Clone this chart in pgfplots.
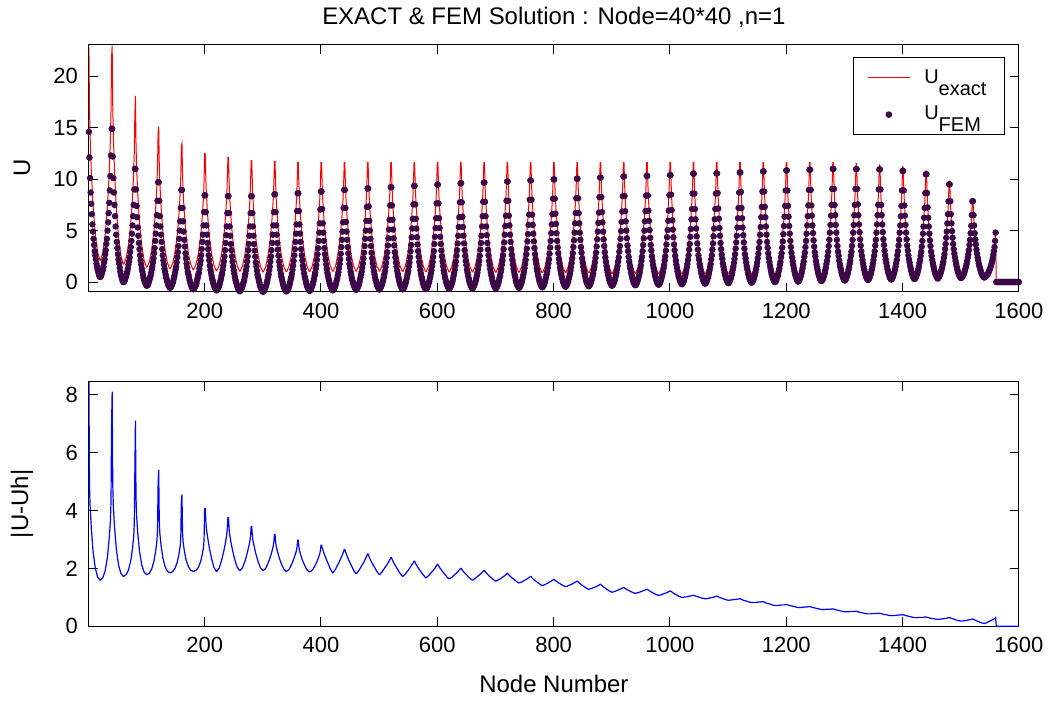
\documentclass[border=0pt]{standalone}
\usepackage{fontspec}
\setmainfont{Liberation Sans}
\usepackage{pgfplots}
\usepackage{pgfplotstable}
\pgfplotsset{compat=1.18}
\definecolor{femc}{RGB}{60,8,72}
% sampled nodes: exact solution and error
\pgfplotstableread{
x ex err
1 23.0 8.45
2 16.96 4.9
3 14.27 4.18
5 10.99 3.44
8 7.49 2.62
12 4.63 2.01
16 2.91 1.70
20 2.1 1.6
21 2.1 1.6
25 2.9 1.68
29 4.58 1.92
33 7.37 2.41
36 10.76 3.06
38 13.94 3.65
39 16.61 4.3
40 21.9 7.0
41 23.0 8.1
42 17.14 4.92
43 14.28 4.15
45 10.9 3.45
48 7.31 2.69
52 4.35 2.11
56 2.58 1.83
60 1.73 1.73
61 1.73 1.73
65 2.33 1.78
69 3.59 1.94
73 5.68 2.27
76 8.19 2.69
78 10.57 3.09
79 12.54 3.52
80 16.3 5.3
81 18.1 7.1
82 13.41 4.45
83 11.18 3.81
85 8.55 3.22
88 5.76 2.59
92 3.46 2.11
96 2.09 1.87
100 1.44 1.79
101 1.44 1.79
105 1.99 1.84
109 3.14 1.98
113 5.03 2.26
116 7.31 2.63
118 9.45 2.97
119 11.24 3.35
120 14.6 4.9
121 15.1 5.4
122 11.49 3.63
123 9.62 3.2
125 7.39 2.81
128 5.01 2.38
132 3.05 2.06
136 1.86 1.9
140 1.3 1.85
141 1.3 1.85
145 1.81 1.89
149 2.88 2.0
153 4.62 2.22
156 6.71 2.51
158 8.69 2.78
159 10.32 3.08
160 13.25 4.3
161 13.5 4.55
162 10.44 3.23
163 8.77 2.91
165 6.75 2.62
168 4.59 2.3
172 2.81 2.06
176 1.72 1.94
180 1.2 1.9
181 1.2 1.9
185 1.69 1.93
189 2.7 2.03
193 4.36 2.23
196 6.36 2.49
198 8.23 2.72
199 9.78 2.99
200 12.5 4.07
201 12.5 4.07
202 10.19 3.64
203 8.57 3.38
205 6.59 3.09
208 4.48 2.72
212 2.72 2.33
216 1.63 2.03
220 1.1 1.9
221 1.1 1.9
225 1.62 2.01
229 2.67 2.27
233 4.38 2.6
236 6.42 2.92
238 8.34 3.16
239 9.9 3.38
240 12.1 3.75
241 12.1 3.75
242 9.89 3.39
243 8.33 3.17
245 6.4 2.93
248 4.35 2.62
252 2.63 2.29
256 1.56 2.04
260 1.05 1.93
261 1.05 1.93
265 1.56 2.02
269 2.6 2.23
273 4.27 2.51
276 6.28 2.77
278 8.17 2.96
279 9.68 3.15
280 11.8 3.45
281 11.8 3.45
282 9.67 3.15
283 8.15 2.96
285 6.25 2.77
288 4.23 2.51
292 2.55 2.23
296 1.5 2.02
300 0.99 1.93
301 0.99 1.93
305 1.5 2.0
309 2.55 2.18
313 4.21 2.4
316 6.23 2.61
318 8.11 2.77
319 9.63 2.92
320 11.7 3.17
321 11.7 3.17
322 9.62 2.92
323 8.11 2.76
325 6.23 2.6
328 4.22 2.38
332 2.55 2.15
336 1.51 1.98
340 1.0 1.9
341 1.0 1.9
345 1.51 1.96
349 2.55 2.11
353 4.21 2.31
356 6.2 2.49
358 8.07 2.63
359 9.56 2.76
360 11.6 2.97
361 11.6 2.97
362 9.56 2.75
363 8.08 2.62
365 6.21 2.48
368 4.23 2.29
372 2.57 2.1
376 1.53 1.95
380 1.03 1.88
381 1.03 1.88
385 1.54 1.94
389 2.58 2.06
393 4.24 2.23
396 6.23 2.39
398 8.1 2.51
399 9.58 2.62
400 11.6 2.8
401 11.6 2.8
402 9.59 2.72
403 8.1 2.66
405 6.23 2.53
408 4.26 2.37
412 2.59 2.18
416 1.56 1.99
420 1.05 1.85
421 1.05 1.85
425 1.56 1.97
429 2.6 2.13
433 4.26 2.29
436 6.25 2.43
438 8.12 2.53
439 9.61 2.59
440 11.6 2.65
441 11.6 2.65
442 9.6 2.58
443 8.13 2.53
445 6.25 2.42
448 4.28 2.28
452 2.62 2.11
456 1.57 1.94
460 1.07 1.82
461 1.07 1.82
465 1.58 1.92
469 2.62 2.06
473 4.28 2.19
476 6.27 2.31
478 8.14 2.4
479 9.63 2.45
480 11.6 2.5
481 11.6 2.5
482 9.62 2.44
483 8.14 2.39
485 6.26 2.3
488 4.28 2.18
492 2.62 2.04
496 1.58 1.9
500 1.07 1.79
501 1.07 1.79
505 1.59 1.88
509 2.62 2.0
513 4.29 2.11
516 6.28 2.21
518 8.15 2.29
519 9.63 2.33
520 11.6 2.38
521 11.6 2.38
522 9.62 2.33
523 8.14 2.28
525 6.25 2.2
528 4.27 2.09
532 2.59 1.96
536 1.55 1.83
540 1.03 1.73
541 1.03 1.73
545 1.55 1.81
549 2.6 1.91
553 4.27 2.02
556 6.27 2.12
558 8.15 2.17
559 9.63 2.21
560 11.6 2.25
561 11.6 2.25
562 9.62 2.2
563 8.13 2.16
565 6.25 2.09
568 4.25 1.99
572 2.56 1.88
576 1.52 1.77
580 1.0 1.68
581 1.0 1.68
585 1.52 1.75
589 2.57 1.84
593 4.25 1.93
596 6.25 2.01
598 8.15 2.07
599 9.63 2.1
600 11.6 2.14
601 11.6 2.14
602 9.63 2.1
603 8.14 2.07
605 6.25 2.0
608 4.24 1.92
612 2.57 1.82
616 1.52 1.72
620 0.99 1.64
621 0.99 1.64
625 1.51 1.69
629 2.57 1.77
633 4.26 1.84
636 6.26 1.9
638 8.16 1.95
639 9.65 1.97
640 11.6 2.0
641 11.6 2.0
642 9.64 1.97
643 8.15 1.94
645 6.25 1.89
648 4.25 1.82
652 2.55 1.74
656 1.5 1.66
660 0.98 1.6
661 0.98 1.6
665 1.5 1.65
669 2.56 1.72
673 4.25 1.78
676 6.26 1.84
678 8.16 1.88
679 9.65 1.9
680 11.6 1.93
681 11.6 1.93
682 9.64 1.9
683 8.14 1.87
685 6.25 1.83
688 4.23 1.76
692 2.54 1.69
696 1.48 1.62
700 0.96 1.56
701 0.96 1.56
705 1.49 1.6
709 2.55 1.65
713 4.23 1.71
716 6.26 1.75
718 8.16 1.79
719 9.65 1.81
720 11.6 1.83
721 11.6 1.83
722 9.64 1.8
723 8.15 1.78
725 6.24 1.74
728 4.23 1.68
732 2.54 1.62
736 1.48 1.55
740 0.95 1.5
741 0.95 1.5
745 1.48 1.53
749 2.53 1.58
753 4.23 1.62
756 6.26 1.66
758 8.16 1.69
759 9.65 1.7
760 11.6 1.72
761 11.6 1.72
762 9.64 1.7
763 8.14 1.67
765 6.22 1.63
768 4.2 1.58
772 2.5 1.52
776 1.44 1.46
780 0.91 1.41
781 0.91 1.41
785 1.44 1.44
789 2.5 1.48
793 4.21 1.53
796 6.23 1.56
798 8.16 1.59
799 9.65 1.6
800 11.6 1.62
801 11.6 1.62
802 9.65 1.6
803 8.15 1.58
805 6.24 1.55
808 4.21 1.51
812 2.51 1.46
816 1.45 1.41
820 0.92 1.37
821 0.92 1.37
825 1.45 1.4
829 2.51 1.44
833 4.22 1.47
836 6.25 1.51
838 8.15 1.53
839 9.65 1.54
840 11.6 1.56
841 11.6 1.56
842 9.64 1.54
843 8.13 1.52
845 6.21 1.48
848 4.19 1.43
852 2.48 1.38
856 1.41 1.32
860 0.88 1.28
861 0.88 1.28
865 1.42 1.31
869 2.48 1.34
873 4.19 1.37
876 6.23 1.4
878 8.14 1.42
879 9.65 1.44
880 11.6 1.45
881 11.6 1.45
882 9.63 1.43
883 8.12 1.41
885 6.19 1.37
888 4.15 1.33
892 2.44 1.27
896 1.37 1.22
900 0.83 1.18
901 0.83 1.18
905 1.36 1.2
909 2.44 1.24
913 4.16 1.27
916 6.2 1.3
918 8.13 1.32
919 9.64 1.33
920 11.6 1.34
921 11.6 1.34
922 9.64 1.32
923 8.13 1.31
925 6.2 1.28
928 4.16 1.25
932 2.44 1.21
936 1.38 1.17
940 0.84 1.14
941 0.84 1.14
945 1.37 1.16
949 2.45 1.19
953 4.17 1.22
956 6.21 1.24
958 8.14 1.26
959 9.65 1.27
960 11.6 1.28
961 11.6 1.28
962 9.64 1.26
963 8.13 1.25
965 6.19 1.22
968 4.15 1.19
972 2.43 1.14
976 1.36 1.1
980 0.82 1.07
981 0.82 1.07
985 1.35 1.09
989 2.43 1.12
993 4.16 1.15
996 6.2 1.18
998 8.13 1.2
999 9.65 1.21
1000 11.6 1.22
1001 11.6 1.22
1002 9.63 1.2
1003 8.11 1.19
1005 6.18 1.16
1008 4.13 1.12
1012 2.41 1.08
1016 1.34 1.03
1020 0.8 1.0
1021 0.8 1.0
1025 1.34 1.01
1029 2.42 1.02
1033 4.15 1.04
1036 6.2 1.05
1038 8.14 1.06
1039 9.65 1.06
1040 11.6 1.07
1041 11.6 1.07
1042 9.64 1.06
1043 8.13 1.05
1045 6.19 1.04
1048 4.14 1.02
1052 2.41 0.99
1056 1.33 0.97
1060 0.8 0.95
1061 0.8 0.95
1065 1.34 0.96
1069 2.42 0.98
1073 4.14 1.0
1076 6.2 1.01
1078 8.13 1.03
1079 9.64 1.03
1080 11.6 1.04
1081 11.6 1.04
1082 9.64 1.03
1083 8.13 1.02
1085 6.19 1.0
1088 4.13 0.98
1092 2.42 0.95
1096 1.33 0.92
1100 0.8 0.9
1101 0.8 0.9
1105 1.34 0.91
1109 2.42 0.92
1113 4.14 0.93
1116 6.2 0.94
1118 8.14 0.94
1119 9.66 0.95
1120 11.6 0.95
1121 11.6 0.95
1122 9.63 0.94
1123 8.12 0.93
1125 6.17 0.91
1128 4.12 0.89
1132 2.39 0.87
1136 1.31 0.84
1140 0.77 0.82
1141 0.77 0.82
1145 1.31 0.82
1149 2.39 0.83
1153 4.13 0.84
1156 6.18 0.84
1158 8.13 0.85
1159 9.65 0.85
1160 11.6 0.85
1161 11.6 0.85
1162 9.63 0.84
1163 8.1 0.83
1165 6.15 0.81
1168 4.08 0.79
1172 2.34 0.77
1176 1.26 0.74
1180 0.72 0.72
1181 0.72 0.72
1185 1.26 0.72
1189 2.35 0.73
1193 4.09 0.74
1196 6.16 0.74
1198 8.12 0.75
1199 9.64 0.75
1200 11.6 0.75
1201 11.6 0.75
1202 9.63 0.74
1203 8.1 0.74
1205 6.14 0.72
1208 4.07 0.71
1212 2.33 0.69
1216 1.24 0.67
1220 0.7 0.65
1221 0.7 0.65
1225 1.24 0.65
1229 2.33 0.66
1233 4.08 0.67
1236 6.15 0.67
1238 8.11 0.68
1239 9.63 0.68
1240 11.6 0.68
1241 11.6 0.68
1242 9.62 0.67
1243 8.1 0.67
1245 6.13 0.65
1248 4.05 0.64
1252 2.31 0.62
1256 1.22 0.6
1260 0.68 0.58
1261 0.68 0.58
1265 1.23 0.58
1269 2.32 0.59
1273 4.06 0.59
1276 6.14 0.59
1278 8.1 0.6
1279 9.63 0.6
1280 11.6 0.6
1281 11.6 0.6
1282 9.62 0.59
1283 8.09 0.59
1285 6.12 0.57
1288 4.03 0.56
1292 2.29 0.54
1296 1.19 0.52
1300 0.65 0.5
1301 0.65 0.5
1305 1.19 0.5
1309 2.27 0.51
1313 4.01 0.51
1316 6.08 0.51
1318 8.02 0.52
1319 9.54 0.52
1320 11.5 0.52
1321 11.5 0.52
1322 9.53 0.51
1323 8.01 0.51
1325 6.06 0.49
1328 3.99 0.48
1332 2.26 0.46
1336 1.17 0.44
1340 0.63 0.43
1341 0.63 0.43
1345 1.17 0.43
1349 2.24 0.44
1353 3.96 0.44
1356 6.02 0.44
1358 7.95 0.45
1359 9.46 0.45
1360 11.4 0.45
1361 11.4 0.45
1362 9.45 0.44
1363 7.94 0.44
1365 6.0 0.43
1368 3.96 0.41
1372 2.24 0.4
1376 1.16 0.38
1380 0.62 0.37
1381 0.62 0.37
1385 1.15 0.37
1389 2.2 0.38
1393 3.9 0.39
1396 5.91 0.39
1398 7.81 0.4
1399 9.29 0.4
1400 11.2 0.4
1401 11.2 0.4
1402 9.28 0.39
1403 7.8 0.39
1405 5.89 0.37
1408 3.88 0.36
1412 2.19 0.34
1416 1.13 0.32
1420 0.6 0.3
1421 0.6 0.3
1425 1.11 0.3
1429 2.13 0.31
1433 3.76 0.31
1436 5.7 0.31
1438 7.53 0.32
1439 8.96 0.32
1440 10.8 0.32
1441 10.8 0.32
1442 8.96 0.31
1443 7.52 0.31
1445 5.69 0.3
1448 3.75 0.28
1452 2.12 0.27
1456 1.1 0.25
1460 0.59 0.24
1461 0.59 0.24
1465 1.05 0.25
1469 1.97 0.26
1473 3.44 0.27
1476 5.19 0.28
1478 6.84 0.29
1479 8.13 0.3
1480 9.8 0.3
1481 9.8 0.3
1482 8.12 0.29
1483 6.84 0.28
1485 5.18 0.27
1488 3.43 0.25
1492 1.96 0.22
1496 1.04 0.2
1500 0.58 0.18
1501 0.58 0.18
1505 0.95 0.19
1509 1.71 0.2
1513 2.91 0.22
1516 4.34 0.23
1518 5.69 0.24
1519 6.74 0.24
1520 8.1 0.25
1521 8.1 0.25
1522 6.73 0.24
1523 5.66 0.23
1525 4.31 0.21
1528 2.88 0.18
1532 1.68 0.15
1536 0.92 0.12
1540 0.55 0.1
1541 0.55 0.1
1545 0.78 0.13
1549 1.22 0.17
1553 1.95 0.21
1556 2.81 0.24
1558 3.62 0.27
1559 4.26 0.28
1560 5.1 0.3
1561 0 0
1600 0 0
}\data
% FEM value at every node 1..1600 (one line per 40 nodes)
\pgfplotstableread[row sep=\\]{
y\\
14.6\\12.1\\10.1\\8.7\\7.6\\6.6\\5.6\\4.9\\4.2\\3.6\\3.0\\2.6\\2.2\\1.8\\1.5\\1.2\\1.0\\0.8\\0.6\\0.5\\0.5\\0.6\\0.8\\1.0\\1.2\\1.5\\1.9\\2.2\\2.7\\3.1\\3.7\\4.2\\5.0\\5.8\\6.7\\7.7\\8.9\\10.3\\12.3\\14.9\\
14.9\\12.2\\10.1\\8.7\\7.5\\6.4\\5.4\\4.6\\3.9\\3.3\\2.7\\2.2\\1.8\\1.4\\1.0\\0.7\\0.5\\0.3\\0.1\\0\\0\\0.1\\0.2\\0.4\\0.6\\0.8\\1.0\\1.3\\1.7\\2.0\\2.4\\2.9\\3.4\\4.0\\4.7\\5.5\\6.4\\7.5\\9.0\\11.0\\
11.0\\9.0\\7.4\\6.3\\5.3\\4.5\\3.8\\3.2\\2.6\\2.1\\1.7\\1.3\\1.0\\0.7\\0.4\\0.2\\0.0\\-0.1\\-0.2\\-0.35\\-0.35\\-0.3\\-0.2\\0.0\\0.2\\0.4\\0.6\\0.9\\1.2\\1.5\\1.9\\2.3\\2.8\\3.3\\4.0\\4.7\\5.5\\6.5\\7.9\\9.7\\
9.7\\7.9\\6.4\\5.4\\4.6\\3.9\\3.2\\2.6\\2.1\\1.7\\1.3\\1.0\\0.7\\0.4\\0.2\\0.0\\-0.2\\-0.3\\-0.45\\-0.55\\-0.55\\-0.45\\-0.4\\-0.2\\-0.1\\0.1\\0.35\\0.6\\0.9\\1.2\\1.5\\1.9\\2.4\\2.9\\3.5\\4.2\\5.0\\5.9\\7.2\\8.95\\
8.95\\7.2\\5.9\\4.9\\4.1\\3.45\\2.8\\2.3\\1.8\\1.4\\1.0\\0.75\\0.5\\0.2\\0.0\\-0.2\\-0.35\\-0.5\\-0.6\\-0.7\\-0.7\\-0.6\\-0.5\\-0.4\\-0.25\\-0.1\\0.2\\0.4\\0.7\\0.9\\1.3\\1.7\\2.1\\2.6\\3.2\\3.9\\4.6\\5.5\\6.8\\8.43\\
8.43\\6.8\\5.5\\4.6\\3.8\\3.2\\2.6\\2.1\\1.6\\1.2\\0.9\\0.6\\0.3\\0.1\\-0.15\\-0.3\\-0.5\\-0.6\\-0.7\\-0.8\\-0.8\\-0.7\\-0.6\\-0.5\\-0.35\\-0.15\\0.1\\0.3\\0.6\\0.85\\1.2\\1.6\\2.0\\2.5\\3.1\\3.8\\4.55\\5.4\\6.7\\8.35\\
8.35\\6.7\\5.4\\4.5\\3.7\\3.1\\2.5\\2.0\\1.5\\1.15\\0.8\\0.5\\0.2\\0.0\\-0.2\\-0.4\\-0.55\\-0.7\\-0.8\\-0.88\\-0.88\\-0.8\\-0.7\\-0.55\\-0.4\\-0.2\\0.0\\0.2\\0.5\\0.8\\1.15\\1.5\\2.0\\2.5\\3.1\\3.7\\4.5\\5.4\\6.7\\8.35\\
8.35\\6.7\\5.4\\4.5\\3.7\\3.05\\2.45\\1.9\\1.5\\1.1\\0.7\\0.45\\0.2\\-0.05\\-0.3\\-0.5\\-0.6\\-0.75\\-0.85\\-0.94\\-0.94\\-0.85\\-0.75\\-0.6\\-0.45\\-0.3\\-0.05\\0.2\\0.5\\0.75\\1.15\\1.5\\2.0\\2.5\\3.1\\3.8\\4.6\\5.5\\6.8\\8.53\\
8.53\\6.8\\5.5\\4.6\\3.8\\3.15\\2.55\\2.0\\1.55\\1.2\\0.8\\0.5\\0.25\\0.0\\-0.25\\-0.45\\-0.6\\-0.7\\-0.8\\-0.9\\-0.9\\-0.8\\-0.7\\-0.6\\-0.45\\-0.25\\0.0\\0.25\\0.5\\0.8\\1.2\\1.6\\2.05\\2.6\\3.2\\3.9\\4.7\\5.6\\6.9\\8.63\\
8.63\\6.9\\5.6\\4.7\\3.9\\3.2\\2.6\\2.1\\1.6\\1.25\\0.85\\0.55\\0.3\\0.05\\-0.2\\-0.4\\-0.5\\-0.65\\-0.75\\-0.85\\-0.85\\-0.75\\-0.65\\-0.5\\-0.35\\-0.2\\0.05\\0.3\\0.6\\0.9\\1.3\\1.65\\2.15\\2.7\\3.3\\4.0\\4.8\\5.7\\7.05\\8.8\\
8.8\\7.1\\5.7\\4.8\\4.0\\3.3\\2.7\\2.2\\1.7\\1.3\\0.9\\0.65\\0.35\\0.1\\-0.15\\-0.3\\-0.45\\-0.6\\-0.7\\-0.8\\-0.8\\-0.7\\-0.6\\-0.45\\-0.3\\-0.1\\0.15\\0.35\\0.65\\0.95\\1.35\\1.75\\2.2\\2.75\\3.4\\4.1\\4.9\\5.8\\7.2\\8.95\\
8.95\\7.2\\5.85\\4.9\\4.1\\3.4\\2.8\\2.25\\1.75\\1.4\\1.0\\0.7\\0.4\\0.15\\-0.05\\-0.25\\-0.4\\-0.55\\-0.65\\-0.75\\-0.75\\-0.65\\-0.55\\-0.4\\-0.25\\-0.05\\0.2\\0.45\\0.75\\1.0\\1.4\\1.8\\2.3\\2.85\\3.5\\4.2\\5.0\\5.95\\7.3\\9.1\\
9.1\\7.35\\5.95\\5.0\\4.2\\3.5\\2.85\\2.3\\1.85\\1.45\\1.05\\0.75\\0.45\\0.2\\0.0\\-0.25\\-0.4\\-0.5\\-0.6\\-0.72\\-0.72\\-0.6\\-0.5\\-0.35\\-0.2\\0.0\\0.2\\0.45\\0.75\\1.05\\1.45\\1.85\\2.35\\2.9\\3.55\\4.25\\5.1\\6.05\\7.45\\9.22\\
9.22\\7.45\\6.05\\5.1\\4.25\\3.55\\2.9\\2.4\\1.9\\1.5\\1.1\\0.8\\0.5\\0.25\\0.0\\-0.2\\-0.35\\-0.5\\-0.6\\-0.7\\-0.7\\-0.6\\-0.5\\-0.35\\-0.2\\0.0\\0.25\\0.5\\0.8\\1.1\\1.5\\1.9\\2.4\\3.0\\3.6\\4.35\\5.2\\6.15\\7.55\\9.35\\
9.35\\7.55\\6.15\\5.2\\4.35\\3.65\\3.0\\2.45\\1.95\\1.55\\1.15\\0.8\\0.5\\0.25\\0.0\\-0.2\\-0.35\\-0.5\\-0.6\\-0.68\\-0.68\\-0.6\\-0.5\\-0.35\\-0.15\\0.05\\0.3\\0.55\\0.85\\1.15\\1.55\\1.95\\2.45\\3.0\\3.7\\4.4\\5.25\\6.2\\7.65\\9.46\\
9.46\\7.65\\6.2\\5.25\\4.4\\3.7\\3.05\\2.5\\2.0\\1.55\\1.15\\0.85\\0.55\\0.3\\0.05\\-0.15\\-0.3\\-0.45\\-0.55\\-0.65\\-0.65\\-0.55\\-0.45\\-0.3\\-0.15\\0.05\\0.3\\0.6\\0.9\\1.2\\1.6\\2.0\\2.55\\3.1\\3.75\\4.5\\5.35\\6.3\\7.75\\9.6\\
9.6\\7.75\\6.35\\5.35\\4.5\\3.75\\3.1\\2.55\\2.05\\1.65\\1.2\\0.9\\0.6\\0.35\\0.1\\-0.1\\-0.25\\-0.4\\-0.5\\-0.62\\-0.62\\-0.5\\-0.4\\-0.25\\-0.1\\0.1\\0.35\\0.6\\0.9\\1.25\\1.65\\2.05\\2.55\\3.15\\3.8\\4.5\\5.4\\6.4\\7.8\\9.67\\
9.67\\7.8\\6.4\\5.4\\4.55\\3.8\\3.15\\2.6\\2.05\\1.65\\1.25\\0.95\\0.65\\0.4\\0.1\\-0.1\\-0.25\\-0.4\\-0.5\\-0.6\\-0.6\\-0.5\\-0.4\\-0.25\\-0.1\\0.15\\0.4\\0.65\\0.95\\1.25\\1.7\\2.1\\2.6\\3.2\\3.85\\4.6\\5.45\\6.45\\7.9\\9.77\\
9.77\\7.9\\6.45\\5.5\\4.6\\3.9\\3.2\\2.65\\2.15\\1.7\\1.3\\1.0\\0.7\\0.45\\0.15\\-0.05\\-0.2\\-0.35\\-0.45\\-0.55\\-0.55\\-0.45\\-0.35\\-0.2\\0.0\\0.2\\0.45\\0.7\\1.0\\1.35\\1.75\\2.15\\2.7\\3.25\\3.95\\4.65\\5.55\\6.55\\8.0\\9.88\\
9.88\\8.0\\6.55\\5.55\\4.7\\3.95\\3.3\\2.7\\2.2\\1.8\\1.35\\1.05\\0.75\\0.5\\0.25\\0.0\\-0.15\\-0.3\\-0.4\\-0.5\\-0.5\\-0.4\\-0.3\\-0.15\\0.0\\0.25\\0.5\\0.75\\1.05\\1.4\\1.8\\2.2\\2.75\\3.35\\4.0\\4.75\\5.6\\6.6\\8.1\\9.98\\
9.98\\8.1\\6.65\\5.65\\4.75\\4.0\\3.35\\2.8\\2.25\\1.85\\1.4\\1.1\\0.8\\0.55\\0.3\\0.05\\-0.1\\-0.25\\-0.35\\-0.45\\-0.45\\-0.35\\-0.25\\-0.1\\0.05\\0.3\\0.55\\0.8\\1.1\\1.45\\1.85\\2.3\\2.8\\3.4\\4.05\\4.8\\5.7\\6.7\\8.15\\10.04\\
10.04\\8.15\\6.7\\5.7\\4.8\\4.1\\3.4\\2.85\\2.3\\1.9\\1.5\\1.15\\0.85\\0.6\\0.35\\0.1\\-0.05\\-0.2\\-0.3\\-0.4\\-0.4\\-0.3\\-0.2\\-0.05\\0.15\\0.35\\0.6\\0.85\\1.2\\1.5\\1.9\\2.35\\2.85\\3.45\\4.15\\4.9\\5.75\\6.75\\8.25\\10.15\\
10.15\\8.26\\6.79\\5.8\\4.9\\4.15\\3.5\\2.9\\2.4\\1.95\\1.55\\1.2\\0.9\\0.65\\0.4\\0.15\\0.0\\-0.15\\-0.25\\-0.35\\-0.35\\-0.25\\-0.15\\0.0\\0.15\\0.4\\0.65\\0.9\\1.25\\1.55\\2.0\\2.4\\2.95\\3.5\\4.2\\4.95\\5.85\\6.85\\8.35\\10.26\\
10.26\\8.36\\6.88\\5.9\\5.0\\4.25\\3.55\\3.0\\2.45\\2.0\\1.6\\1.3\\0.95\\0.7\\0.45\\0.25\\0.05\\-0.1\\-0.2\\-0.3\\-0.3\\-0.2\\-0.1\\0.05\\0.25\\0.45\\0.7\\0.95\\1.3\\1.6\\2.05\\2.45\\3.0\\3.6\\4.25\\5.0\\5.9\\6.9\\8.4\\10.32\\
10.32\\8.42\\6.94\\5.95\\5.05\\4.3\\3.6\\3.05\\2.5\\2.05\\1.65\\1.35\\1.0\\0.75\\0.5\\0.3\\0.1\\-0.05\\-0.15\\-0.25\\-0.25\\-0.15\\-0.05\\0.1\\0.3\\0.5\\0.75\\1.0\\1.35\\1.65\\2.1\\2.5\\3.05\\3.65\\4.35\\5.05\\5.95\\6.95\\8.45\\10.38\\
10.38\\8.5\\7.0\\6.0\\5.1\\4.35\\3.65\\3.1\\2.55\\2.1\\1.7\\1.4\\1.05\\0.8\\0.55\\0.35\\0.15\\0.0\\-0.1\\-0.2\\-0.2\\-0.1\\0.0\\0.15\\0.35\\0.55\\0.8\\1.1\\1.4\\1.75\\2.15\\2.6\\3.15\\3.7\\4.4\\5.15\\6.1\\7.1\\8.6\\10.53\\
10.53\\8.6\\7.1\\6.1\\5.2\\4.45\\3.75\\3.15\\2.6\\2.2\\1.75\\1.45\\1.15\\0.85\\0.6\\0.4\\0.2\\0.05\\-0.05\\-0.15\\-0.15\\-0.05\\0.05\\0.2\\0.4\\0.6\\0.85\\1.15\\1.45\\1.75\\2.2\\2.6\\3.15\\3.75\\4.45\\5.2\\6.1\\7.1\\8.6\\10.56\\
10.56\\8.65\\7.15\\6.15\\5.25\\4.5\\3.8\\3.2\\2.65\\2.25\\1.8\\1.5\\1.2\\0.9\\0.65\\0.45\\0.25\\0.1\\0.0\\-0.1\\-0.1\\0.0\\0.1\\0.25\\0.45\\0.65\\0.9\\1.2\\1.5\\1.85\\2.25\\2.7\\3.25\\3.85\\4.5\\5.3\\6.2\\7.2\\8.7\\10.65\\
10.65\\8.75\\7.2\\6.2\\5.3\\4.55\\3.85\\3.25\\2.7\\2.3\\1.9\\1.55\\1.25\\0.95\\0.7\\0.5\\0.3\\0.15\\0.05\\-0.05\\-0.05\\0.05\\0.15\\0.3\\0.5\\0.7\\0.95\\1.25\\1.55\\1.9\\2.3\\2.75\\3.3\\3.9\\4.6\\5.35\\6.3\\7.3\\8.8\\10.75\\
10.75\\8.8\\7.3\\6.3\\5.4\\4.6\\3.9\\3.35\\2.8\\2.35\\1.95\\1.6\\1.3\\1.0\\0.75\\0.55\\0.4\\0.2\\0.1\\0.0\\0.0\\0.1\\0.2\\0.4\\0.55\\0.75\\1.05\\1.3\\1.65\\1.95\\2.4\\2.8\\3.35\\3.95\\4.65\\5.45\\6.35\\7.4\\8.9\\10.85\\
10.85\\8.9\\7.4\\6.35\\5.45\\4.7\\4.0\\3.4\\2.85\\2.4\\2.0\\1.65\\1.35\\1.05\\0.8\\0.6\\0.45\\0.25\\0.15\\0.05\\0.05\\0.15\\0.25\\0.45\\0.6\\0.8\\1.05\\1.35\\1.7\\2.0\\2.45\\2.85\\3.4\\4.0\\4.7\\5.5\\6.4\\7.45\\8.95\\10.92\\
10.92\\8.95\\7.45\\6.45\\5.5\\4.75\\4.05\\3.45\\2.9\\2.5\\2.05\\1.7\\1.4\\1.15\\0.85\\0.65\\0.5\\0.3\\0.2\\0.1\\0.1\\0.2\\0.3\\0.5\\0.65\\0.85\\1.15\\1.4\\1.75\\2.05\\2.5\\2.95\\3.5\\4.1\\4.8\\5.55\\6.45\\7.5\\9.05\\11.0\\
11.0\\9.05\\7.5\\6.5\\5.55\\4.8\\4.1\\3.5\\2.95\\2.55\\2.1\\1.75\\1.45\\1.2\\0.9\\0.7\\0.55\\0.35\\0.25\\0.15\\0.15\\0.25\\0.35\\0.55\\0.7\\0.9\\1.2\\1.45\\1.75\\2.1\\2.55\\2.95\\3.5\\4.1\\4.8\\5.55\\6.5\\7.5\\9.05\\10.98\\
10.98\\9.05\\7.55\\6.5\\5.6\\4.85\\4.15\\3.55\\3.0\\2.55\\2.15\\1.8\\1.5\\1.2\\0.95\\0.75\\0.6\\0.4\\0.3\\0.2\\0.2\\0.3\\0.4\\0.6\\0.75\\0.95\\1.2\\1.5\\1.8\\2.15\\2.55\\3.0\\3.55\\4.1\\4.8\\5.6\\6.5\\7.5\\9.0\\10.95\\
10.95\\9.0\\7.5\\6.5\\5.6\\4.85\\4.15\\3.6\\3.05\\2.6\\2.2\\1.85\\1.55\\1.25\\1.0\\0.8\\0.65\\0.45\\0.35\\0.25\\0.25\\0.35\\0.45\\0.6\\0.8\\1.0\\1.25\\1.5\\1.85\\2.15\\2.6\\3.0\\3.55\\4.1\\4.8\\5.5\\6.4\\7.4\\8.9\\10.8\\
10.8\\8.9\\7.45\\6.45\\5.55\\4.8\\4.15\\3.55\\3.05\\2.6\\2.2\\1.9\\1.55\\1.3\\1.05\\0.85\\0.65\\0.5\\0.4\\0.3\\0.3\\0.4\\0.5\\0.65\\0.8\\1.0\\1.25\\1.5\\1.85\\2.15\\2.55\\2.95\\3.45\\4.0\\4.7\\5.4\\6.25\\7.2\\8.65\\10.48\\
10.48\\8.65\\7.25\\6.25\\5.4\\4.7\\4.05\\3.5\\2.95\\2.55\\2.15\\1.85\\1.55\\1.3\\1.05\\0.85\\0.7\\0.55\\0.45\\0.35\\0.35\\0.45\\0.55\\0.65\\0.8\\1.0\\1.2\\1.45\\1.7\\2.0\\2.35\\2.7\\3.2\\3.7\\4.3\\4.9\\5.7\\6.6\\7.85\\9.5\\
9.5\\7.85\\6.6\\5.7\\4.95\\4.3\\3.7\\3.2\\2.75\\2.4\\2.05\\1.75\\1.5\\1.25\\1.05\\0.85\\0.7\\0.6\\0.5\\0.4\\0.4\\0.45\\0.55\\0.65\\0.75\\0.9\\1.1\\1.3\\1.5\\1.75\\2.05\\2.35\\2.7\\3.1\\3.6\\4.1\\4.75\\5.45\\6.5\\7.85\\
7.85\\6.5\\5.5\\4.75\\4.15\\3.65\\3.15\\2.75\\2.4\\2.1\\1.8\\1.55\\1.35\\1.15\\0.95\\0.8\\0.7\\0.6\\0.5\\0.45\\0.45\\0.5\\0.55\\0.6\\0.65\\0.75\\0.85\\0.95\\1.1\\1.25\\1.4\\1.6\\1.8\\2.05\\2.3\\2.65\\3.0\\3.4\\4.0\\4.8\\
0\\0\\0\\0\\0\\0\\0\\0\\0\\0\\0\\0\\0\\0\\0\\0\\0\\0\\0\\0\\0\\0\\0\\0\\0\\0\\0\\0\\0\\0\\0\\0\\0\\0\\0\\0\\0\\0\\0\\0\\
}\femdata

\pgfplotsset{
  myax/.style={
    scale only axis, width=465.5pt,
    xmin=1, xmax=1600, xtick={200,400,...,1600},
    tick align=inside, major tick length=4.5pt,
    axis line style={black, line width=0.5pt},
    tick style={black, line width=0.5pt},
    /pgf/number format/assume math mode=true,
    /pgf/number format/1000 sep={},
    ticklabel style={font=\fontsize{11}{13}\selectfont},
    xticklabel style={yshift=-2pt},
    yticklabel style={xshift=-2pt},
    label style={font=\fontsize{12}{14}\selectfont},
    ylabel style={anchor=center, at={(axis description cs:-0.072,0.5)}},
  },
  exactleg/.style={legend image code/.code={\draw[##1] (0pt,0pt) -- (21pt,0pt);}},
  femleg/.style={legend image code/.code={\draw[##1] plot coordinates {(10.5pt,0pt)};}},
}

\begin{document}
\begin{tikzpicture}
\path (0pt,0pt) rectangle (525pt,351pt);
\begin{axis}[myax, at={(44.5pt,205pt)}, anchor=south west, height=123.5pt,
  ymin=-0.94, ymax=23.05, ytick={0,5,10,15,20},
  clip mode=individual,
  ylabel={U},
  title={EXACT \& FEM Solution : Node=40*40 ,n=1},
  title style={at={(axis description cs:0.5,1)}, anchor=center, yshift=8pt, font=\fontsize{12}{14}\selectfont},
  legend style={at={(axis description cs:0.985,0.951)}, anchor=north east, draw=black, line width=0.5pt,
    font=\fontsize{10}{12}\selectfont, inner xsep=7pt, inner ysep=4pt, row sep=6pt, column sep=5pt,
    nodes={inner xsep=2pt}},
  legend cell align=left]
\addplot[red, line width=0.5pt, exactleg]
  table[x=x, y=ex]{\data};
\addlegendentry{U\raisebox{-6pt}{exact}}
\addplot[only marks, mark=*, mark size=1.4pt, color=femc, femleg]
  table[x expr=\coordindex+1, y index=0]{\femdata};
\addlegendentry{U\raisebox{-6pt}{FEM}}
\end{axis}
\begin{axis}[myax, at={(44.5pt,37.5pt)}, anchor=south west, height=122.5pt,
  ymin=0, ymax=8.45, ytick={0,2,4,6,8},
  ylabel={|U-Uh|},
  xlabel={Node Number},
  xlabel style={at={(axis description cs:0.5,0)}, anchor=center, yshift=-29pt}]
\addplot[blue, line width=0.6pt] table[x=x, y=err]{\data};
\end{axis}
\end{tikzpicture}
\end{document}
